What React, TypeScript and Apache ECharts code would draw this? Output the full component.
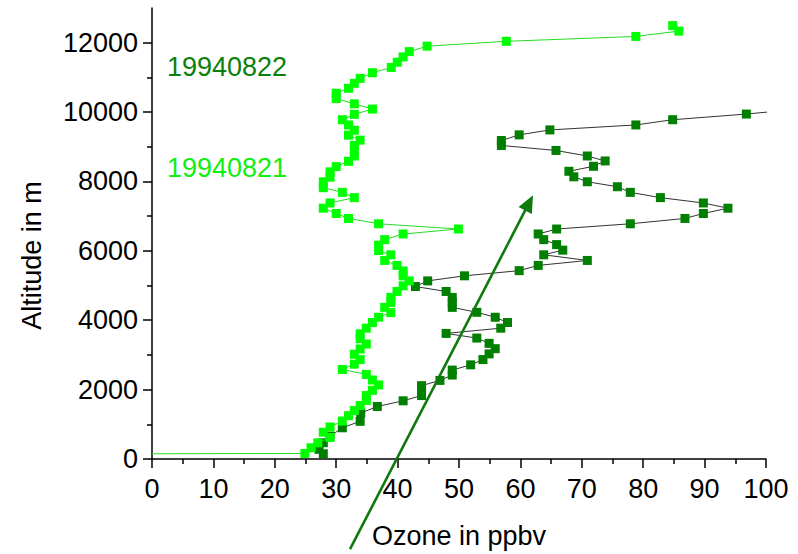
import React, { useEffect, useRef } from "react";
import * as echarts from "echarts";

// 19940821 profile (light green)
const ozone21 = [0, 24.9, 25.9, 27.0, 29.0, 27.9, 29.0, 31.0, 32.0, 32.95, 33.9, 34.9, 34.9, 35.9, 36.9, 35.9, 34.9, 31.0, 32.95, 33.9, 32.95, 33.9, 34.9, 33.9, 33.9, 34.9, 35.9, 36.9, 38.9, 37.9, 38.9, 38.9, 39.9, 40.9, 41.9, 40.9, 40.9, 39.9, 37.9, 38.9, 36.9, 36.9, 37.9, 40.9, 49.9, 36.9, 32.0, 30.0, 27.9, 29.0, 32.95, 31.0, 27.9, 27.9, 29.0, 29.0, 30.0, 32.0, 32.95, 32.95, 32.95, 33.9, 32.0, 32.95, 32.0, 31.0, 32.95, 35.9, 32.95, 30.0, 30.0, 32.0, 32.95, 33.9, 35.9, 38.97, 39.95, 40.9, 41.9, 44.8, 57.7, 78.8, 85.8, 84.8];
const alt21 = [150, 160, 323, 466, 620, 771, 923, 1094, 1249, 1400, 1543, 1686, 1829, 1980, 2134, 2277, 2437, 2580, 2734, 2866, 3020, 3171, 3314, 3466, 3609, 3771, 3934, 4086, 4220, 4371, 4514, 4657, 4829, 4991, 5134, 5277, 5420, 5580, 5723, 5886, 6009, 6163, 6323, 6486, 6629, 6780, 6934, 7077, 7229, 7380, 7534, 7686, 7820, 7991, 8123, 8277, 8429, 8580, 8734, 8886, 9037, 9191, 9334, 9477, 9629, 9780, 9934, 10086, 10237, 10390, 10543, 10686, 10829, 10971, 11134, 11286, 11437, 11590, 11743, 11900, 12040, 12180, 12334, 12494];

// 19940822 profile (dark green)
const ozone22 = [27.9, 27.2, 27.9, 29.0, 31.0, 33.9, 34.0, 36.7, 40.9, 43.9, 43.9, 43.9, 46.9, 48.9, 48.9, 51.9, 53.9, 54.9, 55.9, 54.9, 52.9, 47.9, 56.8, 57.9, 55.9, 52.9, 48.9, 48.9, 48.9, 47.9, 42.9, 44.9, 50.9, 59.8, 62.9, 70.9, 63.8, 66.9, 65.9, 63.8, 62.9, 65.9, 77.9, 86.8, 89.8, 93.8, 89.8, 82.8, 77.9, 75.8, 70.9, 68.7, 67.9, 71.9, 73.8, 70.9, 65.8, 56.9, 56.9, 59.8, 64.8, 78.8, 84.8, 96.8, 105];
const alt22 = [150, 280, 470, 660, 900, 1086, 1323, 1514, 1677, 1829, 1971, 2114, 2266, 2420, 2563, 2714, 2866, 3029, 3180, 3334, 3486, 3620, 3771, 3934, 4086, 4229, 4371, 4514, 4657, 4829, 4971, 5134, 5280, 5429, 5580, 5723, 5886, 6020, 6180, 6323, 6486, 6629, 6780, 6934, 7077, 7229, 7380, 7534, 7686, 7848, 7991, 8134, 8294, 8437, 8591, 8734, 8894, 9037, 9180, 9343, 9486, 9629, 9780, 9943, 10080];

const yMajorTicks = [0, 2000, 4000, 6000, 8000, 10000, 12000];
const yMinorTicks = [1000, 3000, 5000, 7000, 9000, 11000];

// arrow annotation, in data coordinates (ozone, altitude)
const arrowStart = [32.25, -2600];
const arrowEnd = [62.05, 7600];

const labels = ["19940822", "19940821"];

const FONT = "'Liberation Sans', Arial, sans-serif";
const FS = 27;
const LIGHT = "#00ff00";
const DARK = "#007f00";

export default function App() {
  const ref = useRef<HTMLDivElement>(null);
  useEffect(() => {
    const chart = echarts.init(ref.current!, null, { renderer: "svg" });
    const d21 = ozone21.map((x, i) =>
      i === 0 ? { value: [x, alt21[i]], symbol: "none" } : { value: [x, alt21[i]] }
    );
    const d22 = ozone22.map((x, i) => [x, alt22[i]]);
    chart.setOption({
      animation: false,
      grid: { left: 152, right: 32, top: 8, bottom: 91, containLabel: false },
      xAxis: {
        type: "value",
        min: 0,
        max: 100,
        interval: 10,
        name: "Ozone in ppbv",
        nameLocation: "middle",
        nameGap: 63,
        nameTextStyle: { fontSize: FS, color: "#000", fontFamily: FONT },
        axisLine: { show: true, onZero: false, lineStyle: { color: "#000", width: 1.5 } },
        axisTick: { show: true, length: 9, lineStyle: { color: "#000", width: 1.5 } },
        minorTick: { show: true, splitNumber: 2, length: 5, lineStyle: { color: "#000", width: 1.5 } },
        axisLabel: { fontSize: FS, color: "#000", fontFamily: FONT, margin: 16 },
        splitLine: { show: false },
      },
      yAxis: [
        {
          type: "value",
          min: 0,
          max: 13000,
          position: "left",
          name: "Altitude in m",
          nameLocation: "middle",
          nameGap: 107,
          nameTextStyle: { fontSize: FS, color: "#000", fontFamily: FONT, padding: [0, 44, 0, 0] },
          axisLine: { show: true, onZero: false, lineStyle: { color: "#000", width: 1.5 } },
          axisTick: { show: true, length: 9, customValues: yMajorTicks, lineStyle: { color: "#000", width: 1.5 } },
          axisLabel: {
            fontSize: FS,
            color: "#000",
            fontFamily: FONT,
            margin: 14,
            customValues: yMajorTicks,
            formatter: (v: number) => String(v),
          },
          splitLine: { show: false },
        },
        {
          type: "value",
          min: 0,
          max: 13000,
          position: "left",
          axisLine: { show: false },
          axisTick: { show: true, length: 5, customValues: yMinorTicks, lineStyle: { color: "#000", width: 1.5 } },
          axisLabel: { show: false },
          splitLine: { show: false },
        },
      ],
      series: [
        {
          type: "line",
          name: labels[0],
          data: d22,
          symbol: "rect",
          symbolSize: 9,
          itemStyle: { color: DARK },
          lineStyle: { color: "#333", width: 1 },
          showSymbol: true,
          showAllSymbol: true,
          clip: true,
          z: 2,
        },
        {
          type: "line",
          name: labels[1],
          data: d21,
          symbol: "rect",
          symbolSize: 9,
          itemStyle: { color: LIGHT },
          lineStyle: { color: "#22dd22", width: 1 },
          showSymbol: true,
          showAllSymbol: true,
          clip: true,
          z: 3,
        },
      ],
    });

    const p1 = chart.convertToPixel({ xAxisIndex: 0, yAxisIndex: 0 }, arrowStart) as number[];
    const p2 = chart.convertToPixel({ xAxisIndex: 0, yAxisIndex: 0 }, arrowEnd) as number[];
    const dx = p2[0] - p1[0];
    const dy = p2[1] - p1[1];
    const len = Math.sqrt(dx * dx + dy * dy);
    const ux = dx / len;
    const uy = dy / len;
    const headL = 17;
    const headW = 7.5;
    const bx = p2[0] - ux * headL;
    const by = p2[1] - uy * headL;
    const ARROW = "#0e7a0e";
    chart.setOption({
      graphic: [
        {
          type: "line",
          shape: { x1: p1[0], y1: p1[1], x2: bx + ux * 2, y2: by + uy * 2 },
          style: { stroke: ARROW, lineWidth: 2.6 },
          z: 100,
        },
        {
          type: "polygon",
          shape: {
            points: [
              [p2[0], p2[1]],
              [bx - uy * headW, by + ux * headW],
              [bx + uy * headW, by - ux * headW],
            ],
          },
          style: { fill: ARROW },
          z: 100,
        },
        {
          type: "text",
          x: 167,
          y: 53,
          style: { text: labels[0], fill: "#0a800a", font: `${FS}px ${FONT}` },
          z: 100,
        },
        {
          type: "text",
          x: 167,
          y: 154,
          style: { text: labels[1], fill: "#11ee11", font: `${FS}px ${FONT}` },
          z: 100,
        },
      ],
    });
    return () => chart.dispose();
  }, []);
  return (
    <div
      ref={ref}
      style={{ position: "fixed", left: 0, top: 0, width: 798, height: 554, background: "#fff" }}
    />
  );
}
